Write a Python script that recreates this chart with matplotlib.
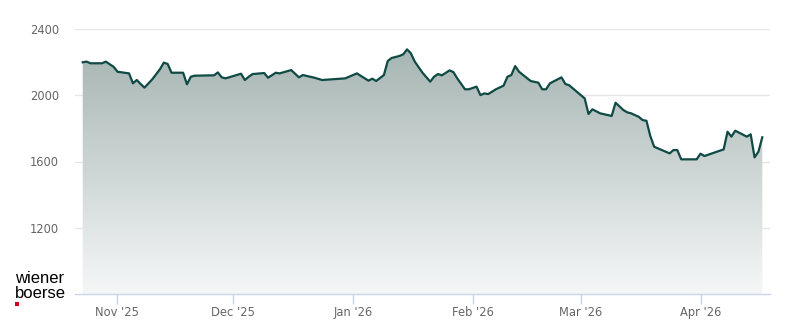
import numpy as np
import pandas as pd
import matplotlib
matplotlib.use('Agg')
import matplotlib.pyplot as plt
import matplotlib.dates as mdates
from matplotlib.patches import Rectangle

# Kursdaten (Tage ab Startdatum, Schlusskurs)
start_date = '2025-10-23'
day_offsets = [
    0, 1, 2, 5, 6, 7, 8, 9, 12, 13,
    14, 15, 16, 18, 20, 21, 22, 23, 26, 27,
    28, 29, 33, 34, 35, 36, 37, 41, 42, 43,
    44, 47, 48, 50, 51, 54, 56, 57, 60, 62,
    68, 71, 74, 75, 76, 78, 79, 80, 82, 83,
    84, 85, 86, 88, 90, 91, 92, 93, 95, 96,
    97, 99, 100, 102, 103, 104, 105, 107, 109, 110,
    111, 112, 113, 116, 118, 119, 120, 121, 124, 125,
    126, 130, 131, 132, 134, 137, 138, 140, 141, 142,
    144, 145, 146, 147, 148, 152, 153, 154, 155, 159,
    160, 161, 166, 167, 168, 169, 172, 173, 174, 175,
    176,
]
prices = [
    2199, 2203, 2193, 2193, 2203, 2187, 2172, 2142, 2132, 2072,
    2092, 2068, 2046, 2096, 2157, 2197, 2189, 2136, 2136, 2066,
    2112, 2118, 2120, 2120, 2138, 2108, 2102, 2130, 2092, 2112,
    2128, 2134, 2106, 2136, 2132, 2152, 2108, 2122, 2106, 2092,
    2102, 2132, 2088, 2100, 2086, 2122, 2207, 2225, 2237, 2247,
    2277, 2253, 2203, 2136, 2082, 2112, 2128, 2120, 2150, 2140,
    2102, 2036, 2036, 2052, 2001, 2011, 2007, 2036, 2058, 2112,
    2122, 2176, 2142, 2086, 2076, 2036, 2036, 2072, 2108, 2068,
    2060, 1981, 1887, 1915, 1891, 1875, 1955, 1911, 1897, 1891,
    1870, 1850, 1846, 1754, 1689, 1649, 1669, 1669, 1613, 1613,
    1647, 1633, 1673, 1780, 1750, 1786, 1750, 1764, 1625, 1659,
    1746,
]
y_ticks = [1200, 1600, 2000, 2400]

assert len(day_offsets) == len(prices)

dates = pd.Timestamp(start_date) + pd.to_timedelta(day_offsets, unit='D')
y_min, y_max = 800, 2400

line_color = '#0f4a44'
axis_color = '#ccd6eb'

fig = plt.figure(figsize=(8, 3.24), dpi=100)
ax = fig.add_axes([75 / 800, 30 / 324, 695 / 800, 265 / 324])

# Fläche mit Verlauf
poly = ax.fill_between(dates, prices, y_min, facecolor='none', edgecolor='none')
top = np.array([160, 176, 174]) / 255
bottom = np.array([245, 247, 247]) / 255
t = np.linspace(0, 1, 256)[:, None]
grad = (top * (1 - t) + bottom * t)[:, None, :]
img = ax.imshow(grad, extent=[0, 1, 0, 1], transform=ax.transAxes,
                aspect='auto', zorder=1, interpolation='bilinear')
img.set_clip_path(poly.get_paths()[0], transform=ax.transData)

ax.plot(dates, prices, color=line_color, lw=1.6, zorder=3,
        solid_joinstyle='round')

ax.set_xlim(pd.Timestamp(start_date) - pd.Timedelta(days=2),
            pd.Timestamp(start_date) + pd.Timedelta(days=178))
ax.set_ylim(y_min, y_max)

ax.set_yticks(y_ticks)
ax.set_yticklabels([str(v) for v in y_ticks])
ax.grid(axis='y', color='#e6e6e6', lw=1, zorder=0)
ax.set_axisbelow(True)

ax.xaxis.set_major_locator(mdates.MonthLocator())
ax.xaxis.set_major_formatter(mdates.DateFormatter("%b '%y"))

for s in ['top', 'right', 'left']:
    ax.spines[s].set_visible(False)
ax.spines['bottom'].set_color(axis_color)
ax.spines['bottom'].set_linewidth(1)

ax.tick_params(axis='y', length=0, pad=11.5, labelsize=8.3, labelcolor='#666666')
ax.tick_params(axis='x', length=7.2, width=1, color=axis_color, pad=1.5,
               labelsize=8.3, labelcolor='#666666')

# Logo
logo_font = ['Liberation Sans', 'DejaVu Sans']
fig.text(15 / 800, 1 - 282.7 / 324, 'wiener', fontsize=12, family=logo_font,
         color='black', va='baseline', ha='left')
fig.text(15 / 800, 1 - 297.7 / 324, 'boerse', fontsize=12, family=logo_font,
         color='black', va='baseline', ha='left')
fig.patches.append(Rectangle((15 / 800, 1 - 305.7 / 324), 4.3 / 800, 3.4 / 324,
                             transform=fig.transFigure, facecolor='#d0021b',
                             edgecolor='none'))

plt.savefig('out.png', dpi=100)
